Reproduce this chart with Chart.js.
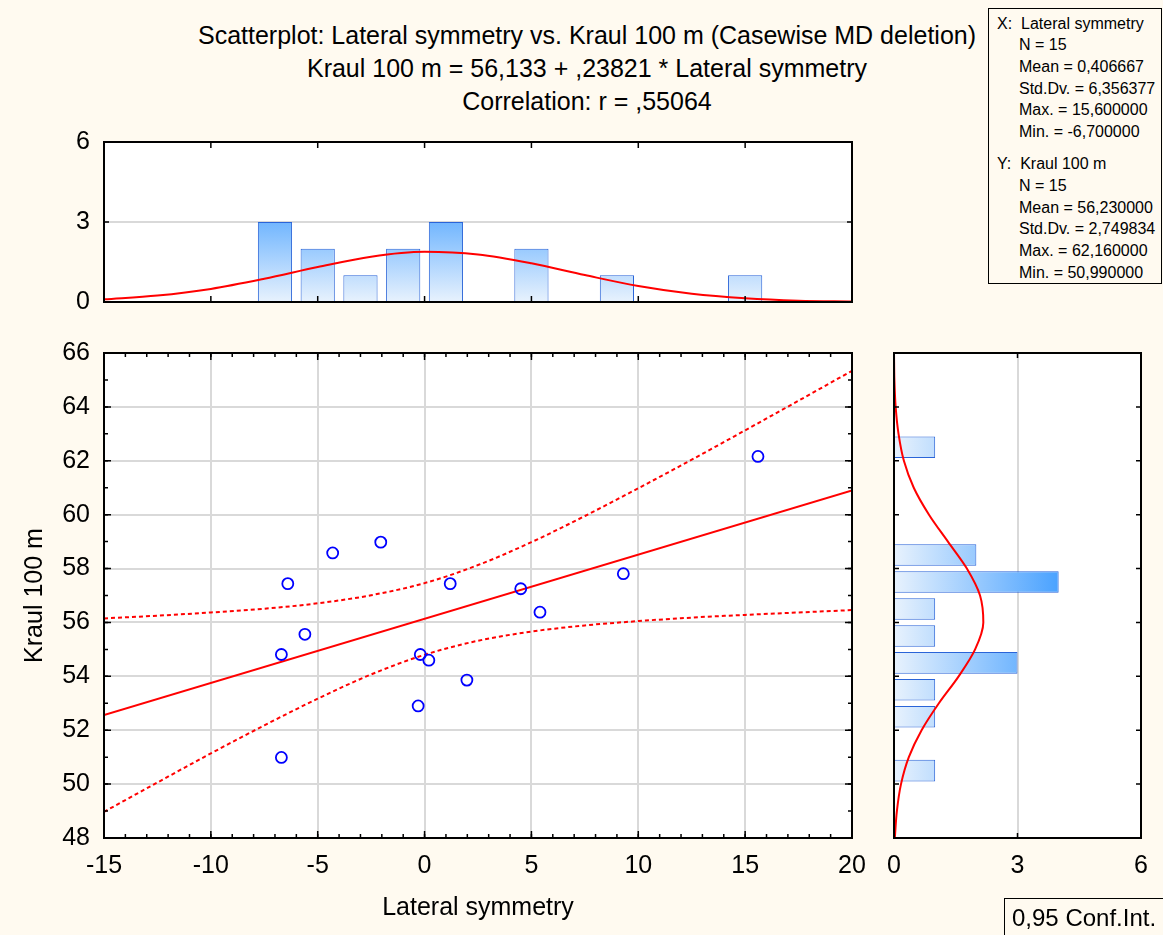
<!DOCTYPE html>
<html>
<head>
<meta charset="utf-8">
<script src="https://cdn.jsdelivr.net/npm/chart.js@4.4.1/dist/chart.umd.min.js"></script>
<style>
  body { margin: 0; background: #fffaf0; font-family: "Liberation Sans", Arial, sans-serif; color: #000; }
  #wrap { position: relative; width: 1163px; height: 935px; overflow: hidden; background: #fffaf0; }
  canvas { position: absolute; }
  .title { position: absolute; left: 0; width: 1174px; text-align: center; font-size: 25px; line-height: 30px; }
  #stats { position: absolute; left: 988px; top: 8px; width: 174px; height: 276px; border: 1px solid #000; box-sizing: border-box; padding-top: 3.5px; font-size: 16px; line-height: 21.7px; }
  #stats .h { padding-left: 8px; }
  #stats .i { padding-left: 30px; }
  #stats .gap { height: 10.6px; }
  #conf { position: absolute; left: 1004px; top: 898px; width: 170px; height: 45px; border: 1px solid #000; box-sizing: border-box; font-size: 24px; line-height: 30px; padding: 4px 0 0 7px; }
</style>
</head>
<body>
<div id="wrap">
  <div class="title" style="top:20px">Scatterplot: Lateral symmetry vs. Kraul 100 m (Casewise MD deletion)</div>
  <div class="title" style="top:53px">Kraul 100 m = 56,133 + ,23821 * Lateral symmetry</div>
  <div class="title" style="top:86px">Correlation: r = ,55064</div>

  <div id="stats">
    <div class="h">X:&nbsp; Lateral symmetry</div>
    <div class="i">N = 15</div>
    <div class="i">Mean = 0,406667</div>
    <div class="i">Std.Dv. = 6,356377</div>
    <div class="i">Max. = 15,600000</div>
    <div class="i">Min. = -6,700000</div>
    <div class="gap"></div>
    <div class="h">Y:&nbsp; Kraul 100 m</div>
    <div class="i">N = 15</div>
    <div class="i">Mean = 56,230000</div>
    <div class="i">Std.Dv. = 2,749834</div>
    <div class="i">Max. = 62,160000</div>
    <div class="i">Min. = 50,990000</div>
  </div>

  <canvas id="topHist" width="880" height="240" style="left:0;top:100px"></canvas>
  <canvas id="scatter" width="880" height="620" style="left:0;top:310px"></canvas>
  <canvas id="rightHist" width="313" height="620" style="left:850px;top:310px"></canvas>

  <div id="conf">0,95 Conf.Int.</div>
</div>

<script>
// cases
const lateralSymmetry = [-6.4, -6.7, -6.7, -5.6, -4.3, -2.05, -0.3, -0.2, 0.2, 1.2, 1.98, 4.5, 5.4, 9.3, 15.6];
const kraul100m = [57.44, 54.81, 50.99, 55.56, 58.58, 58.98, 52.90, 54.81, 54.60, 57.44, 53.86, 57.25, 56.38, 57.81, 62.16];

// regression line and 0,95 confidence band
const fitAt = [-15, 20];
const fitValue = [52.56, 60.90];
const bandAt = [-15, -12.5, -10, -7.5, -5, -2.5, 0, 2.5, 5, 7.5, 10, 12.5, 15, 17.5, 20];
const bandUpper = [56.15, 56.25, 56.37, 56.51, 56.71, 57.01, 57.46, 58.13, 58.98, 59.95, 60.98, 62.04, 63.13, 64.23, 65.34];
const bandLower = [48.97, 50.06, 51.14, 52.18, 53.17, 54.07, 54.80, 55.32, 55.66, 55.89, 56.05, 56.18, 56.28, 56.37, 56.46];

// histogram of Lateral symmetry (bins of 2)
const xBinCenters = [-7, -5, -3, -1, 1, 5, 9, 15];
const xBinCounts = [3, 2, 1, 2, 3, 2, 1, 1];
const xCurveAt = [-15, -12.5, -10, -7.5, -5, -2.5, 0, 2.5, 5, 7.5, 10, 12.5, 15, 17.5, 20];
const xCurveHeight = [0.10, 0.24, 0.49, 0.87, 1.31, 1.70, 1.88, 1.78, 1.45, 1.01, 0.60, 0.31, 0.14, 0.05, 0.02];

// histogram of Kraul 100 m (bins of 1)
const yBinCenters = [50.5, 52.5, 53.5, 54.5, 55.5, 56.5, 57.5, 58.5, 62.5];
const yBinCounts = [1, 1, 1, 3, 1, 1, 4, 2, 1];
const yCurveAt = [48, 49, 50, 51, 52, 53, 54, 55, 56, 57, 58, 59, 60, 61, 62, 63, 64, 65, 66];
const yCurveWidth = [0.02, 0.07, 0.17, 0.36, 0.67, 1.09, 1.57, 1.97, 2.17, 2.09, 1.77, 1.31, 0.85, 0.48, 0.24, 0.11, 0.04, 0.01, 0.00];

const pairs = (xs, ys) => xs.map((x, i) => ({ x: x, y: ys[i] }));

const FONT = { family: '"Liberation Sans", Arial, sans-serif', size: 25 };
const GRID = '#d9d9d9';

// frame around the plot area plus small inner tick marks
const frameTicks = {
  id: 'frameTicks',
  afterDatasetsDraw(chart, args, opts) {
    const { ctx, chartArea: a } = chart;
    ctx.save();
    ctx.strokeStyle = '#000';
    ctx.lineWidth = 1.5;
    (opts.marks || []).forEach(m => {
      const s = chart.scales[m.axis];
      for (let v = s.min; v <= s.max + 1e-9; v += m.step) {
        const p = s.getPixelForValue(v);
        ctx.beginPath();
        if (s.isHorizontal()) {
          ctx.moveTo(p, a.bottom); ctx.lineTo(p, a.bottom - m.len);
          ctx.moveTo(p, a.top); ctx.lineTo(p, a.top + m.len);
        } else {
          ctx.moveTo(a.left, p); ctx.lineTo(a.left + m.len, p);
          ctx.moveTo(a.right, p); ctx.lineTo(a.right - m.len, p);
        }
        ctx.stroke();
      }
    });
    ctx.lineWidth = 2;
    ctx.strokeRect(a.left, a.top, a.right - a.left, a.bottom - a.top);
    ctx.restore();
  }
};

const plotBg = {
  id: 'plotBg',
  beforeDraw(chart) {
    const { ctx, chartArea: a } = chart;
    ctx.save();
    ctx.fillStyle = '#fff';
    ctx.fillRect(a.left, a.top, a.right - a.left, a.bottom - a.top);
    ctx.restore();
  }
};

// bar fill gets darker with the count
function barGradient(chart, axis) {
  const s = chart.scales[axis];
  if (!chart.chartArea) return '#c6e0fd';
  const p0 = s.getPixelForValue(0), p4 = s.getPixelForValue(4);
  const g = s.isHorizontal()
    ? chart.ctx.createLinearGradient(p0, 0, p4, 0)
    : chart.ctx.createLinearGradient(0, p0, 0, p4);
  g.addColorStop(0, '#e8f2fd');
  g.addColorStop(1, '#4aa2ff');
  return g;
}

Chart.register(plotBg, frameTicks);

// Top histogram
new Chart(document.getElementById('topHist'), {
  type: 'bar',
  data: {
    datasets: [{
      type: 'line',
      data: pairs(xCurveAt, xCurveHeight),
      borderColor: '#ff0000',
      borderWidth: 2,
      pointRadius: 0,
      cubicInterpolationMode: 'monotone',
      order: 0
    }, {
      data: pairs(xBinCenters, xBinCounts),
      backgroundColor: (c) => barGradient(c.chart, 'y'),
      borderColor: '#2a64d8',
      borderWidth: 1,
      barPercentage: 0.8,
      categoryPercentage: 1,
      order: 1
    }]
  },
  options: {
    responsive: false,
    animation: false,
    layout: { padding: { top: 42, right: 28, bottom: 38, left: 0 } },
    plugins: {
      legend: { display: false },
      tooltip: { enabled: false },
      frameTicks: { marks: [{ axis: 'x', step: 5, len: 6 }, { axis: 'y', step: 3, len: 5 }] }
    },
    scales: {
      x: { type: 'linear', min: -15, max: 20, offset: false, display: false, ticks: { stepSize: 5 } },
      y: {
        min: 0, max: 6,
        afterFit: (s) => { s.width = 104; },
        ticks: { stepSize: 3, padding: 14, color: '#000', font: FONT },
        grid: { drawTicks: false, lineWidth: 2, color: (c) => c.tick && c.tick.value === 3 ? GRID : 'rgba(0,0,0,0)' },
        border: { display: false }
      }
    }
  }
});

// Scatterplot
new Chart(document.getElementById('scatter'), {
  type: 'scatter',
  data: {
    datasets: [{
      data: pairs(lateralSymmetry, kraul100m),
      pointStyle: 'circle',
      pointRadius: 5.5,
      pointBorderWidth: 1.8,
      borderColor: '#0000ff',
      backgroundColor: 'rgba(0,0,0,0)'
    }, {
      data: pairs(fitAt, fitValue),
      showLine: true,
      borderColor: '#ff0000',
      borderWidth: 2,
      pointRadius: 0
    }, {
      data: pairs(bandAt, bandUpper),
      showLine: true,
      borderColor: '#ff0000',
      borderWidth: 2,
      borderDash: [4, 3],
      pointRadius: 0,
      cubicInterpolationMode: 'monotone'
    }, {
      data: pairs(bandAt, bandLower),
      showLine: true,
      borderColor: '#ff0000',
      borderWidth: 2,
      borderDash: [4, 3],
      pointRadius: 0,
      cubicInterpolationMode: 'monotone'
    }]
  },
  options: {
    responsive: false,
    animation: false,
    layout: { padding: { top: 43, right: 28, bottom: 0, left: 0 } },
    plugins: {
      legend: { display: false },
      tooltip: { enabled: false },
      frameTicks: { marks: [{ axis: 'x', step: 5, len: 7 }, { axis: 'x', step: 1, len: 4 }, { axis: 'y', step: 2, len: 7 }, { axis: 'y', step: 1, len: 4 }] }
    },
    scales: {
      x: {
        type: 'linear', min: -15, max: 20,
        afterFit: (s) => { s.height = 92; },
        ticks: { stepSize: 5, padding: 13, color: '#000', font: FONT, maxRotation: 0 },
        grid: { drawTicks: false, color: GRID, lineWidth: 2 },
        border: { display: false },
        title: { display: true, text: 'Lateral symmetry', color: '#000', font: FONT, padding: { top: 0, bottom: 7 } }
      },
      y: {
        type: 'linear', min: 48, max: 66,
        afterFit: (s) => { s.width = 104; },
        ticks: { stepSize: 2, padding: 14, color: '#000', font: FONT },
        grid: { drawTicks: false, color: GRID, lineWidth: 2 },
        border: { display: false },
        title: { display: true, text: 'Kraul 100 m', color: '#000', font: FONT, padding: { top: 20, bottom: 0 } }
      }
    }
  }
});

// Right histogram
new Chart(document.getElementById('rightHist'), {
  type: 'bar',
  data: {
    datasets: [{
      type: 'line',
      indexAxis: 'y',
      data: pairs(yCurveWidth, yCurveAt),
      borderColor: '#ff0000',
      borderWidth: 2,
      pointRadius: 0,
      cubicInterpolationMode: 'monotone',
      order: 0
    }, {
      data: pairs(yBinCounts, yBinCenters),
      backgroundColor: (c) => barGradient(c.chart, 'x'),
      borderColor: '#2a64d8',
      borderWidth: 1,
      barPercentage: 0.8,
      categoryPercentage: 1,
      order: 1
    }]
  },
  options: {
    indexAxis: 'y',
    responsive: false,
    animation: false,
    layout: { padding: { top: 43, right: 22, bottom: 0, left: 44 } },
    plugins: {
      legend: { display: false },
      tooltip: { enabled: false },
      frameTicks: { marks: [{ axis: 'x', step: 3, len: 5 }, { axis: 'y', step: 2, len: 5 }] }
    },
    scales: {
      x: {
        type: 'linear', min: 0, max: 6,
        afterFit: (s) => { s.height = 92; },
        ticks: { stepSize: 3, padding: 13, color: '#000', font: FONT },
        grid: { drawTicks: false, lineWidth: 2, color: (c) => c.tick && c.tick.value === 3 ? GRID : 'rgba(0,0,0,0)' },
        border: { display: false }
      },
      y: { type: 'linear', min: 48, max: 66, offset: false, display: false, ticks: { stepSize: 2 } }
    }
  }
});
</script>
</body>
</html>
